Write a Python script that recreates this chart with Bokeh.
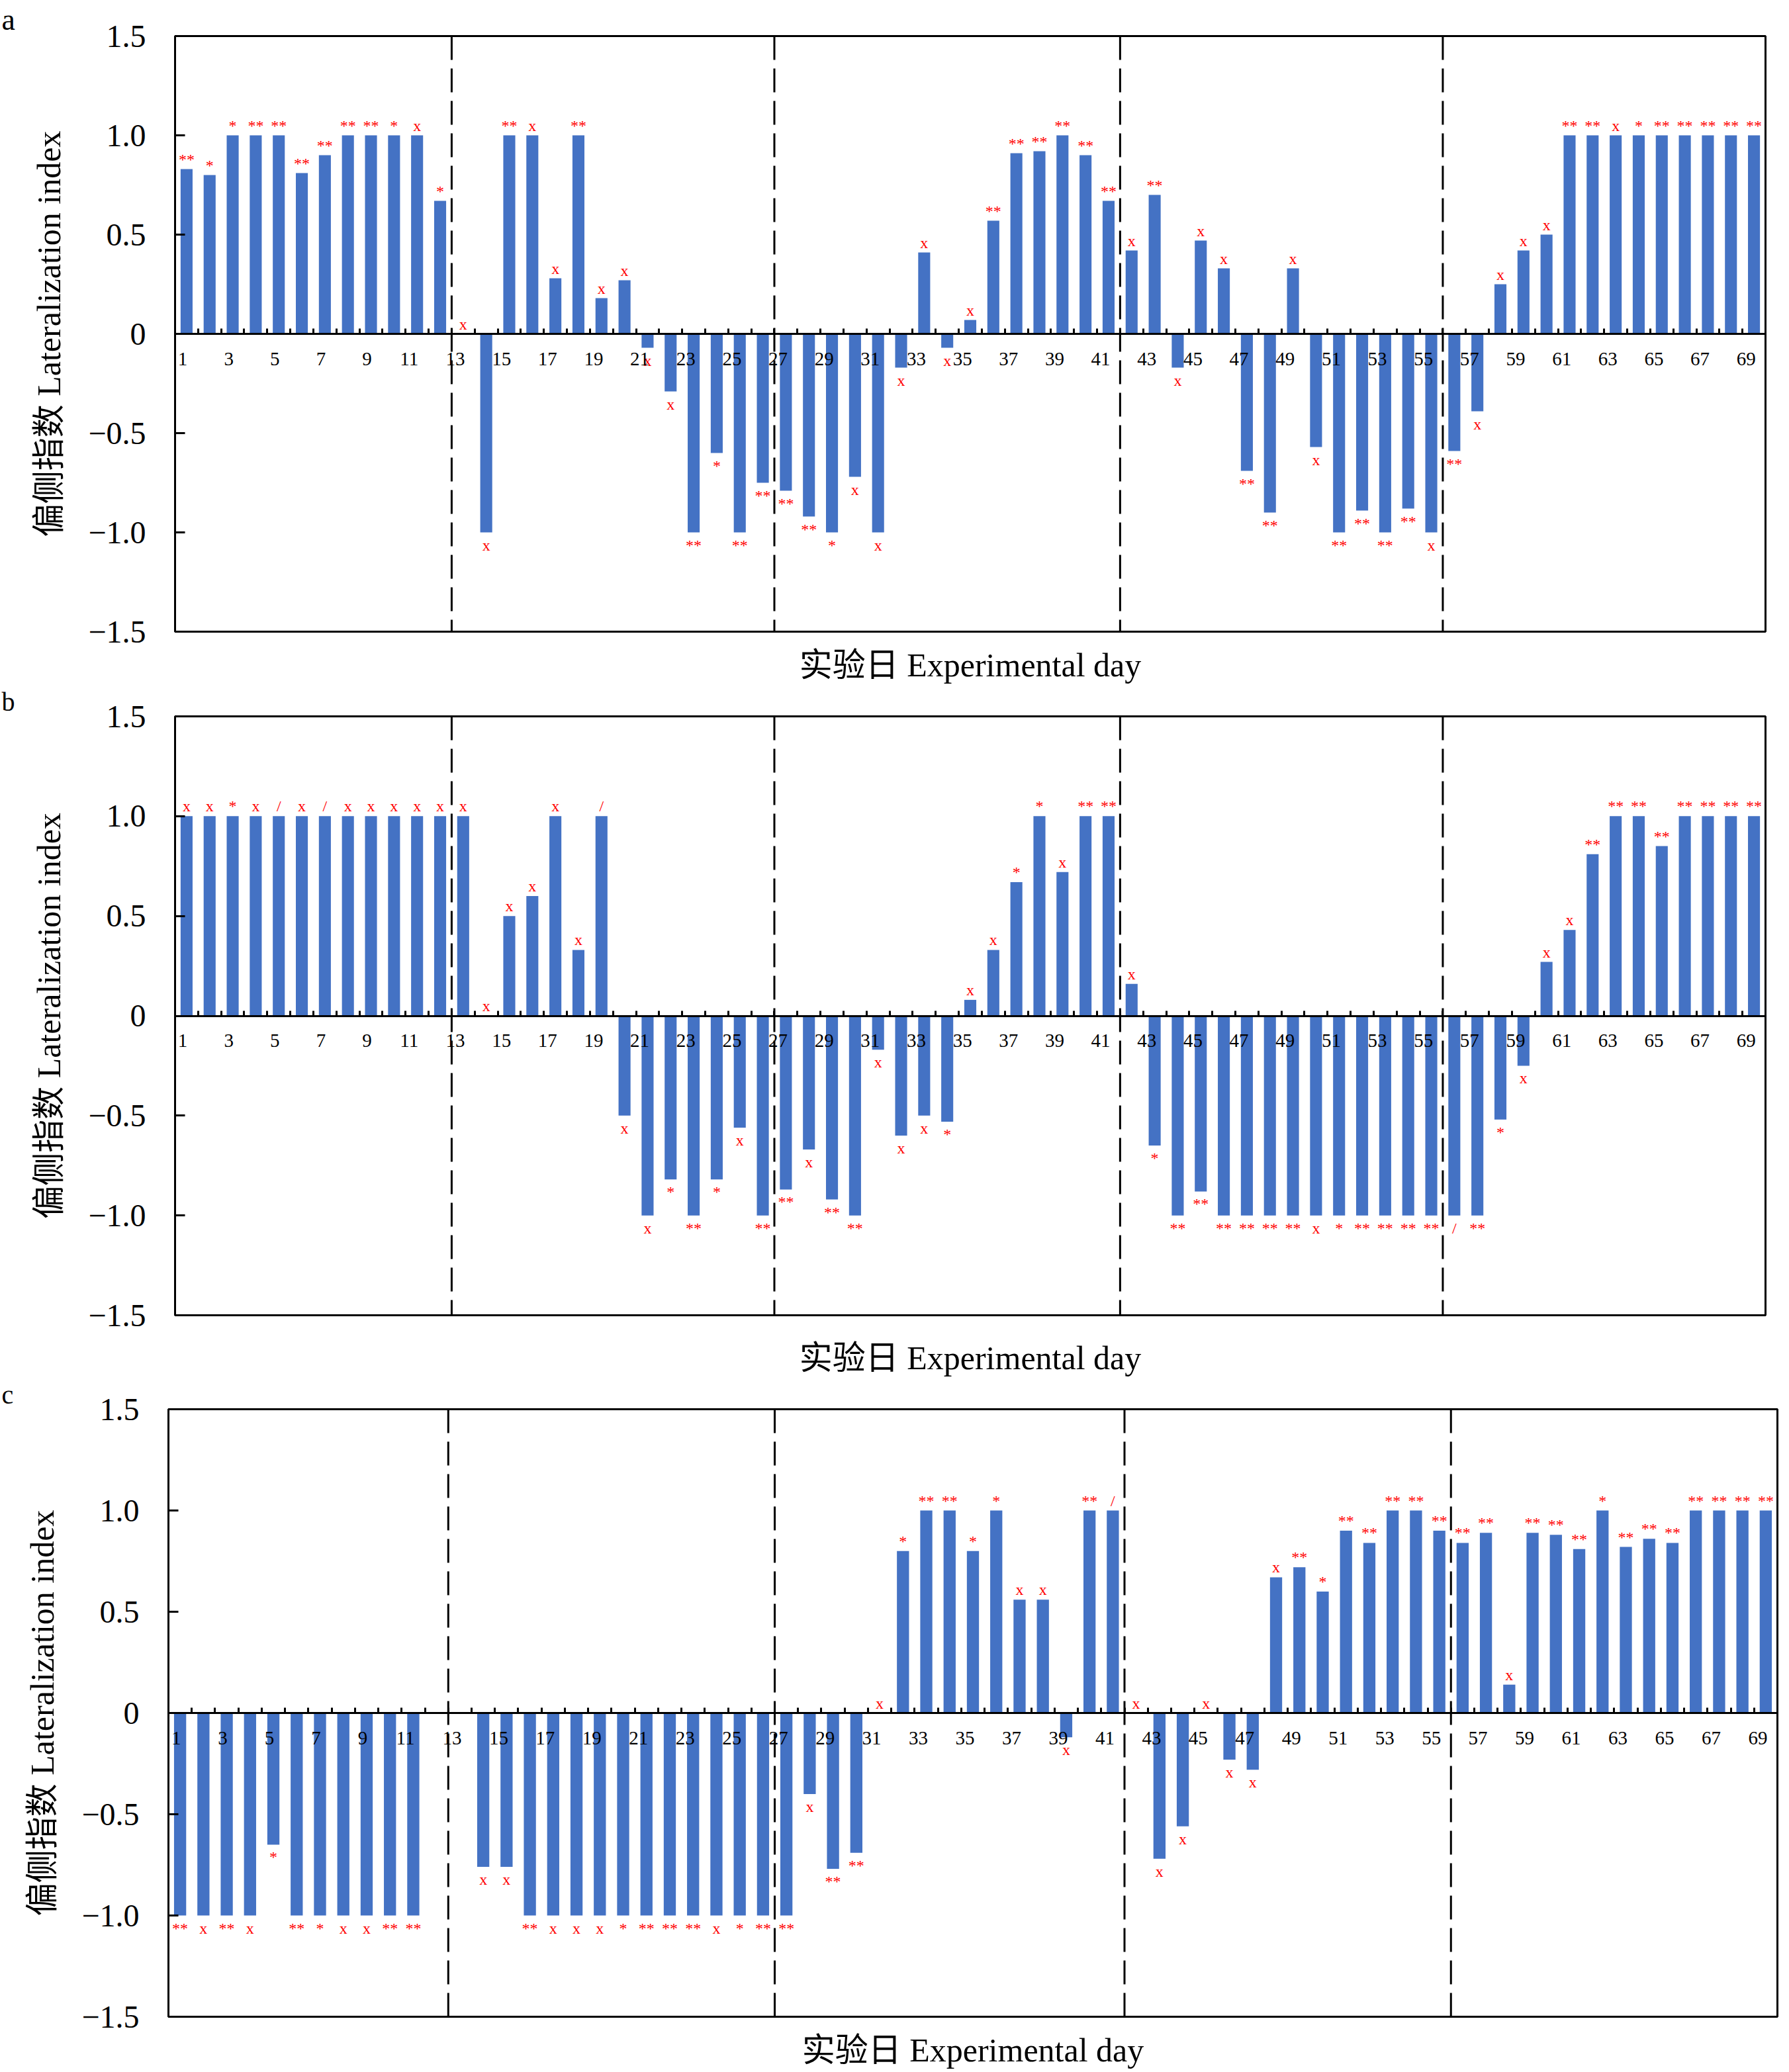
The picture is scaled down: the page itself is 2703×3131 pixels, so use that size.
from bokeh.plotting import figure
from bokeh.models import Range1d, LinearAxis, FixedTicker, Span, ColumnDataSource
from bokeh.layouts import column
from bokeh.embed import file_html
from bokeh.resources import INLINE
from bokeh.core.properties import value

# ---------------- data ----------------
days = list(range(1, 70))
x_tick_days = list(range(1, 70, 2))
x_tick_labels = [str(d) for d in x_tick_days]
y_ticks = [-1.5, -1.0, -0.5, 0, 0.5, 1.0, 1.5]
y_tick_labels = ["−1.5", "−1.0", "−0.5", "0", "0.5", "1.0", "1.5"]
phase_breaks = [12.5, 26.5, 41.5, 55.5]
y_title = "偏侧指数 Lateralization index"
x_title = "实验日 Experimental day"

a_values = [0.83, 0.80, 1.0, 1.0, 1.0, 0.81, 0.90, 1.0, 1.0, 1.0,
            1.0, 0.67, 0.0, -1.0, 1.0, 1.0, 0.28, 1.0, 0.18, 0.27,
            -0.07, -0.29, -1.0, -0.60, -1.0, -0.75, -0.79, -0.92, -1.0, -0.72,
            -1.0, -0.17, 0.41, -0.07, 0.07, 0.57, 0.91, 0.92, 1.0, 0.90,
            0.67, 0.42, 0.70, -0.17, 0.47, 0.33, -0.69, -0.90, 0.33, -0.57,
            -1.0, -0.89, -1.0, -0.88, -1.0, -0.59, -0.39, 0.25, 0.42, 0.50,
            1.0, 1.0, 1.0, 1.0, 1.0, 1.0, 1.0, 1.0, 1.0]
a_marks = ["**", "*", "*", "**", "**", "**", "**", "**", "**", "*",
           "x", "*", "x", "x", "**", "x", "x", "**", "x", "x",
           "x", "x", "**", "*", "**", "**", "**", "**", "*", "x",
           "x", "x", "x", "x", "x", "**", "**", "**", "**", "**",
           "**", "x", "**", "x", "x", "x", "**", "**", "x", "x",
           "**", "**", "**", "**", "x", "**", "x", "x", "x", "x",
           "**", "**", "x", "*", "**", "**", "**", "**", "**"]

b_values = [1.0, 1.0, 1.0, 1.0, 1.0, 1.0, 1.0, 1.0, 1.0, 1.0,
            1.0, 1.0, 1.0, 0.0, 0.50, 0.60, 1.0, 0.33, 1.0, -0.50,
            -1.0, -0.82, -1.0, -0.82, -0.56, -1.0, -0.87, -0.67, -0.92, -1.0,
            -0.17, -0.60, -0.50, -0.53, 0.08, 0.33, 0.67, 1.0, 0.72, 1.0,
            1.0, 0.16, -0.65, -1.0, -0.88, -1.0, -1.0, -1.0, -1.0, -1.0,
            -1.0, -1.0, -1.0, -1.0, -1.0, -1.0, -1.0, -0.52, -0.25, 0.27,
            0.43, 0.81, 1.0, 1.0, 0.85, 1.0, 1.0, 1.0, 1.0]
b_marks = ["x", "x", "*", "x", "/", "x", "/", "x", "x", "x",
           "x", "x", "x", "x", "x", "x", "x", "x", "/", "x",
           "x", "*", "**", "*", "x", "**", "**", "x", "**", "**",
           "x", "x", "x", "*", "x", "x", "*", "*", "x", "**",
           "**", "x", "*", "**", "**", "**", "**", "**", "**", "x",
           "*", "**", "**", "**", "**", "/", "**", "*", "x", "x",
           "x", "**", "**", "**", "**", "**", "**", "**", "**"]

c_values = [-1.0, -1.0, -1.0, -1.0, -0.65, -1.0, -1.0, -1.0, -1.0, -1.0,
            -1.0, None, None, -0.76, -0.76, -1.0, -1.0, -1.0, -1.0, -1.0,
            -1.0, -1.0, -1.0, -1.0, -1.0, -1.0, -1.0, -0.40, -0.77, -0.69,
            0.0, 0.80, 1.0, 1.0, 0.80, 1.0, 0.56, 0.56, -0.12, 1.0,
            1.0, 0.0, -0.72, -0.56, 0.0, -0.23, -0.28, 0.67, 0.72, 0.60,
            0.90, 0.84, 1.0, 1.0, 0.90, 0.84, 0.89, 0.14, 0.89, 0.88,
            0.81, 1.0, 0.82, 0.86, 0.84, 1.0, 1.0, 1.0, 1.0]
c_marks = ["**", "x", "**", "x", "*", "**", "*", "x", "x", "**",
           "**", "", "", "x", "x", "**", "x", "x", "x", "*",
           "**", "**", "**", "x", "*", "**", "**", "x", "**", "**",
           "x", "*", "**", "**", "*", "*", "x", "x", "x", "**",
           "/", "x", "x", "x", "x", "x", "x", "x", "**", "*",
           "**", "**", "**", "**", "**", "**", "**", "x", "**", "**",
           "**", "*", "**", "**", "**", "**", "**", "**", "**"]

# ---------------- styling ----------------
SERIF = "Liberation Serif"
MIXED = "Liberation Serif, Noto Sans CJK SC"
BAR = "#4472C4"
X0, X1 = 0.5, 69.5
Y0, Y1 = -1.5, 1.5
DIGIT_SHIFT = 0.17   # day labels end near the bar centre


def make_panel(letter, vals, marks, fw, fh, left, right, top, bottom,
               xlabel_standoff, letter_size):
    p = figure(frame_width=fw, frame_height=fh,
               x_range=Range1d(X0, X1), y_range=Range1d(Y0, Y1),
               x_axis_type=None, y_axis_type=None,
               output_backend="svg", toolbar_location=None,
               min_border_left=left, min_border_right=right,
               min_border_top=top, min_border_bottom=bottom)
    p.outline_line_color = "black"
    p.outline_line_width = 3
    p.outline_line_alpha = 1.0
    p.background_fill_color = "white"
    p.border_fill_color = "white"

    # panel letter as a left-aligned title pushed to the canvas edge
    p.title.text = letter
    p.title.align = "left"
    p.title.offset = -(left - 2)
    p.title.standoff = 0
    p.title.text_font = SERIF
    p.title.text_font_size = letter_size
    p.title.text_font_style = "normal"
    p.title.text_color = "black"

    # y axis
    yax = LinearAxis(ticker=FixedTicker(ticks=y_ticks, minor_ticks=[]),
                     major_label_overrides={t: l for t, l in zip(y_ticks, y_tick_labels)},
                     axis_label=y_title)
    yax.axis_line_color = "black"
    yax.axis_line_width = 3
    yax.major_tick_in = 15
    yax.major_tick_out = 0
    yax.major_tick_line_width = 3
    yax.minor_tick_line_color = None
    yax.major_label_standoff = 44
    yax.major_label_text_font = SERIF
    yax.major_label_text_font_size = "48px"
    yax.major_label_text_color = "black"
    yax.axis_label_text_font = MIXED
    yax.axis_label_text_font_size = "50px"
    yax.axis_label_text_font_style = "normal"
    yax.axis_label_text_color = "black"
    yax.axis_label_standoff = 28
    p.add_layout(yax, "left")

    # bottom axis carrying only the x title
    xl = LinearAxis(ticker=FixedTicker(ticks=[], minor_ticks=[]), axis_label=x_title)
    xl.axis_line_color = None
    xl.major_tick_line_color = None
    xl.minor_tick_line_color = None
    xl.major_label_text_font_size = "0px"
    xl.axis_label_text_font = MIXED
    xl.axis_label_text_font_size = "50px"
    xl.axis_label_text_font_style = "normal"
    xl.axis_label_text_color = "black"
    xl.axis_label_standoff = xlabel_standoff
    p.add_layout(xl, "below")

    # day axis crossing at y = 0 (labels sit just left of their bar)
    label_pos = [d - DIGIT_SHIFT * len(s) for d, s in zip(x_tick_days, x_tick_labels)]
    zax = LinearAxis(fixed_location=0,
                     ticker=FixedTicker(ticks=label_pos,
                                        minor_ticks=[d + 0.5 for d in days[:-1]]),
                     major_label_overrides=dict(zip(label_pos, x_tick_labels)))
    zax.axis_line_color = "black"
    zax.axis_line_width = 3
    zax.major_tick_line_color = None
    zax.minor_tick_in = 8
    zax.minor_tick_out = 0
    zax.minor_tick_line_width = 3
    zax.minor_tick_line_color = "black"
    zax.major_label_standoff = 22
    zax.major_label_text_font = SERIF
    zax.major_label_text_font_size = "29px"
    zax.major_label_text_color = "black"
    p.add_layout(zax, "below")

    # bars
    xs = [d for d, v in zip(days, vals) if v is not None]
    tops = [v for v in vals if v is not None]
    src = ColumnDataSource(dict(x=xs, top=tops))
    p.vbar(x="x", top="top", bottom=0, width=0.52, source=src,
           fill_color=BAR, line_color=None)

    # phase separators
    for b in phase_breaks:
        p.add_layout(Span(location=b, dimension="height", line_color="black",
                          line_width=3, line_dash="36 13"))

    # significance marks
    ann = [(d, v, m) for d, v, m in zip(days, vals, marks) if v is not None and m]
    asrc = ColumnDataSource(dict(
        x=[a[0] for a in ann], y=[a[1] for a in ann], t=[a[2] for a in ann],
        yoff=[-15 if a[1] >= 0 else 19 for a in ann]))
    p.text(x="x", y="y", text="t", y_offset="yoff", source=asrc,
           text_align="center", text_baseline="middle", text_color="#FF0000",
           text_font=value(SERIF), text_font_size="24px")
    return p


pa = make_panel("a", a_values, a_marks, 2403, 900, 264, 20, 54, 78, 22, "46px")
pb = make_panel("b", b_values, b_marks, 2403, 905, 264, 20, 30, 91, 36, "40px")
pc = make_panel("c", c_values, c_marks, 2431, 918, 254, 2, 30, 77, 22, "40px")

layout = column(column(pa), column(pb), column(pc))
open("out.html", "w").write(file_html(layout, INLINE))
